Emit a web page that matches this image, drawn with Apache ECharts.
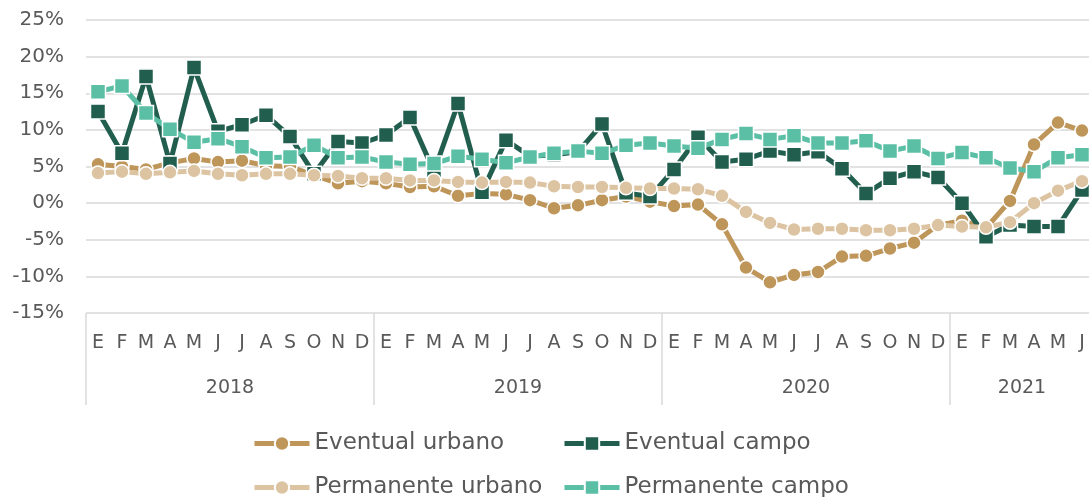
<!DOCTYPE html>
<html>
<head>
<meta charset="utf-8">
<script src="https://cdn.jsdelivr.net/npm/echarts@6/dist/echarts.min.js"></script>
<style>
  html, body { margin: 0; padding: 0; background: #fff; }
  #chart { width: 1089px; height: 497px; }
</style>
</head>
<body>
<div id="chart"></div>
<script>
var months = ['E','F','M','A','M','J','J','A','S','O','N','D',
              'E','F','M','A','M','J','J','A','S','O','N','D',
              'E','F','M','A','M','J','J','A','S','O','N','D',
              'E','F','M','A','M','J'];
var years = ['2018', '2019', '2020', '2021'];
var yearPos = [6, 18, 30, 39];

// % values
var eventualUrbano = [5.3, 5.0, 4.6, 5.5, 6.1, 5.6, 5.8, 5.1, 5.0, 3.8, 2.7, 3.0,
                      2.7, 2.2, 2.3, 1.0, 1.3, 1.2, 0.4, -0.7, -0.3, 0.4, 0.9, 0.2,
                      -0.4, -0.2, -2.9, -8.8, -10.8, -9.8, -9.4, -7.3, -7.2, -6.2, -5.4, -3.0,
                      -2.4, -3.4, 0.3, 8.0, 11.0, 9.9];
var eventualCampo = [12.5, 6.8, 17.3, 5.4, 18.5, 9.8, 10.7, 12.0, 9.1, 4.0, 8.4, 8.2,
                     9.3, 11.7, 4.3, 13.6, 1.5, 8.6, 6.4, 6.6, 7.0, 10.8, 1.4, 0.9,
                     4.6, 9.0, 5.6, 6.0, 7.1, 6.6, 7.0, 4.7, 1.3, 3.4, 4.3, 3.5,
                     0.0, -4.6, -3.0, -3.2, -3.2, 1.8];
var permanenteUrbano = [4.1, 4.3, 4.0, 4.2, 4.4, 4.0, 3.8, 4.0, 4.0, 3.8, 3.7, 3.4,
                        3.4, 3.1, 3.1, 2.9, 2.8, 2.9, 2.8, 2.3, 2.2, 2.2, 2.1, 2.0,
                        2.0, 1.9, 1.0, -1.2, -2.7, -3.6, -3.5, -3.5, -3.7, -3.7, -3.5, -3.0,
                        -3.2, -3.3, -2.6, 0.0, 1.7, 3.0];
var permanenteCampo = [15.2, 16.0, 12.3, 10.1, 8.3, 8.8, 7.7, 6.2, 6.3, 7.9, 6.2, 6.3,
                       5.6, 5.3, 5.4, 6.4, 6.0, 5.5, 6.3, 6.8, 7.1, 6.8, 7.9, 8.2,
                       7.8, 7.5, 8.7, 9.5, 8.7, 9.2, 8.2, 8.2, 8.5, 7.1, 7.8, 6.1,
                       6.9, 6.2, 4.8, 4.3, 6.2, 6.6];

var font = 'DejaVu Sans';
var txt = '#595959';
var gridColor = '#d9d9d9';

function line(name, data, color, symbol, size) {
    return {
        name: name,
        type: 'line',
        data: data,
        symbol: symbol,
        symbolSize: size,
        showAllSymbol: true,
        lineStyle: { color: color, width: 5 },
        itemStyle: { color: color, borderColor: '#fff', borderWidth: 1.5 },
        emphasis: { disabled: true },
        clip: false
    };
}

// one legend per entry so the two columns line up
function legendItem(name, left, top) {
    return {
        data: [name],
        left: left, top: top,
        itemWidth: 55, itemHeight: 18,
        lineStyle: { width: 5 },
        textStyle: { fontFamily: font, fontSize: 23, color: txt }
    };
}

var chart = echarts.init(document.getElementById('chart'));
var option = {
    animation: false,
    textStyle: { fontFamily: font },
    grid: { left: 86, width: 1008, top: 20, height: 293, outerBoundsMode: 'none', containLabel: false },
    legend: [
        legendItem('Eventual urbano', 247, 427),
        legendItem('Eventual campo', 557, 427),
        legendItem('Permanente urbano', 247, 471),
        legendItem('Permanente campo', 557, 471)
    ],
    xAxis: [{
        type: 'category',
        data: months,
        boundaryGap: true,
        axisLine: { show: false },
        axisTick: { show: false },
        axisLabel: { interval: 0, margin: 21, fontSize: 19, color: txt, fontFamily: font }
    }, {
        // year labels
        type: 'value',
        position: 'bottom',
        min: 0, max: 42, interval: 1,
        axisLine: { show: false },
        axisTick: { show: false },
        splitLine: { show: false },
        axisLabel: {
            margin: 66, fontSize: 19, color: txt, fontFamily: font,
            showMinLabel: true, showMaxLabel: true,
            formatter: function (v) {
                var k = yearPos.indexOf(v);
                return k >= 0 ? years[k] : '';
            }
        }
    }, {
        // year separators
        type: 'value',
        position: 'bottom',
        min: 0, max: 42, interval: 12,
        axisLine: { show: false },
        axisTick: { show: true, inside: false, length: 92, lineStyle: { color: gridColor, width: 1.5 } },
        splitLine: { show: false },
        axisLabel: { show: false }
    }],
    yAxis: {
        type: 'value',
        min: -15, max: 25, interval: 5,
        axisLine: { show: false },
        axisTick: { show: false },
        splitLine: { lineStyle: { color: gridColor, width: 1.5 } },
        axisLabel: { formatter: '{value}%', fontSize: 20, color: txt, fontFamily: font, margin: 22 }
    },
    series: [
        line('Eventual urbano', eventualUrbano, '#bf965a', 'circle', 14),
        line('Eventual campo', eventualCampo, '#225e4e', 'rect', 15),
        line('Permanente urbano', permanenteUrbano, '#dcc4a2', 'circle', 14),
        line('Permanente campo', permanenteCampo, '#5abfa5', 'rect', 15)
    ]
};
chart.setOption(option);
</script>
</body>
</html>
